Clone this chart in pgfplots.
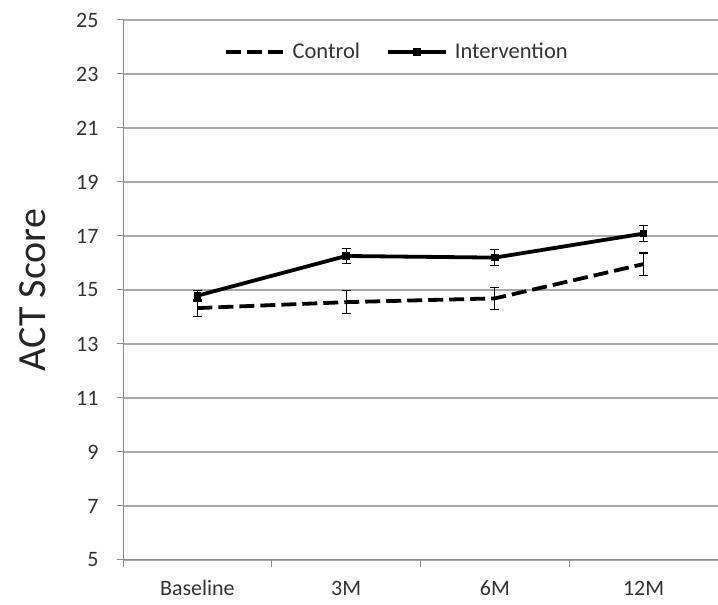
\documentclass[border=0pt]{standalone}
\usepackage{pgfplots}
\pgfplotsset{compat=1.18}
\usepackage{fontspec}
\setmainfont{Carlito}
\definecolor{gridgray}{RGB}{170,170,170}
\definecolor{axisgray}{RGB}{140,140,140}
\begin{document}
\begin{tikzpicture}[x=1pt,y=1pt]
\useasboundingbox (0,0) rectangle (718,605);
\begin{axis}[
  at={(123pt,45pt)}, anchor=south west,
  scale only axis, width=595pt, height=540pt,
  xmin=-0.5, xmax=3.5, ymin=5, ymax=25,
  axis x line*=bottom, axis y line*=left,
  axis line style={axisgray, line width=1pt},
  ytick={5,7,...,25},
  ymajorgrids, grid style={gridgray, line width=1.2pt},
  xtick={0,1,2,3},
  xticklabels={Baseline,3M,6M,12M},
  minor xtick={-0.5,0.5,1.5,2.5},
  major x tick style={draw=none},
  minor tick length=7pt,
  major tick length=6pt,
  tick align=outside,
  tick style={axisgray, line width=1pt},
  /pgf/number format/assume math mode=true,
  tick label style={font=\fontsize{22}{26}\selectfont, text=black!80},
  xticklabel style={anchor=base, yshift=-30pt},
  yticklabel style={xshift=-15pt},
  ylabel={ACT Score},
  ylabel style={at={(axis description cs:-0.152,0.5)}, anchor=center, font=\fontsize{40}{46}\selectfont, text=black!85},
  legend style={at={(axis description cs:0.46,0.941)}, anchor=center, draw=none, fill=none,
    legend columns=2, font=\fontsize{22.5}{26}\selectfont, text=black!80,
    /tikz/every odd column/.append style={column sep=5pt},
    /tikz/every even column/.append style={column sep=24pt}},
  legend image code/.code={\draw[#1, mark repeat=2, mark phase=2] plot coordinates {(0pt,0pt) (29pt,0pt) (58pt,0pt)};},
  clip=false,
]
\addplot[black, line width=3.8pt, dash pattern=on 15pt off 6pt,
  error bars/.cd, y dir=both, y explicit,
  error bar style={line width=1.2pt, solid}, error mark options={rotate=90, mark size=4.5pt, line width=1.2pt}]
  table[x=x, y=y, y error=e] {
x y e
0 14.33 0.32
1 14.55 0.42
2 14.69 0.40
3 15.96 0.41
};
\addlegendentry{Control}
\addplot[black, line width=3.8pt, mark=square*, mark size=1.8pt,
  error bars/.cd, y dir=both, y explicit,
  error bar style={line width=1.2pt, solid}, error mark options={rotate=90, mark size=4.5pt, line width=1.2pt}]
  table[x=x, y=y, y error=e] {
x y e
0 14.79 0.20
1 16.26 0.28
2 16.20 0.30
3 17.09 0.30
};
\addlegendentry{Intervention}
\end{axis}
\end{tikzpicture}
\end{document}
